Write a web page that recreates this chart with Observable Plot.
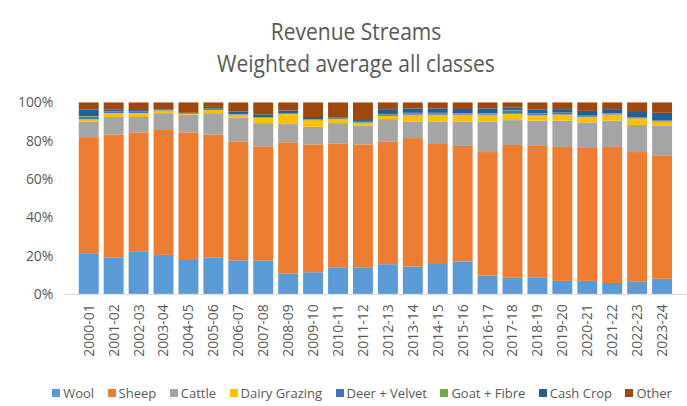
<!DOCTYPE html>
<html><head><meta charset="utf-8">
<script src="https://cdn.jsdelivr.net/npm/d3@7"></script>
<script src="https://cdn.jsdelivr.net/npm/@observablehq/plot@0.6"></script>
<style>
body{margin:0;width:687px;height:406px;overflow:hidden;background:#fff;font-family:"Open Sans",sans-serif;color:#595959}
#hdr{height:88px;position:relative}
.t{position:absolute;left:0;width:712px;text-align:center;font-size:21px;line-height:36px;white-space:nowrap;transform:scaleY(1.15)}
#legend{height:28px;display:flex;justify-content:center;align-items:center;gap:13.5px;font-size:13px;padding-left:37px;padding-top:4px;box-sizing:border-box}
#legend span.sw{display:inline-block;width:8px;height:8px;margin-right:3px}
#legend div{display:flex;align-items:center;white-space:nowrap}
</style></head>
<body>
<div id="hdr"><div class="t" style="top:13px">Revenue Streams</div><div class="t" style="top:45px">Weighted average all classes</div></div>
<div id="chart"></div>
<div id="legend"></div>
<script>
const years = ["2000-01","2001-02","2002-03","2003-04","2004-05","2005-06","2006-07","2007-08","2008-09","2009-10","2010-11","2011-12","2012-13","2013-14","2014-15","2015-16","2016-17","2017-18","2018-19","2019-20","2020-21","2021-22","2022-23","2023-24"];
const seriesNames = ["Wool","Sheep","Cattle","Dairy Grazing","Deer + Velvet","Goat + Fibre","Cash Crop","Other"];
const seriesColors = ["#5B9BD5","#ED7D31","#A5A5A5","#FFC000","#4472C4","#70AD47","#255E91","#9E480E"];
const wool   = [20.9,19.1,22.3,20.4,18.2,19.1,17.5,17.5,10.7,11.3,13.9,13.9,15.5,14.3,16.1,17.0,9.6,8.4,8.4,6.8,6.8,5.7,6.3,7.9];
const sheep  = [61.0,64.2,62.1,65.2,66.2,64.2,62.2,59.6,68.5,66.8,64.7,64.2,64.2,67.1,62.2,60.3,64.5,69.4,68.9,69.9,69.4,71.0,67.8,64.5];
const cattle = [8.2,9.1,8.0,8.8,9.3,11.1,12.3,12.1,9.5,9.2,10.6,9.7,11.6,8.7,11.8,12.8,16.0,13.0,13.2,13.8,13.4,13.8,14.1,15.4];
const dairy  = [1.1,2.1,2.1,1.4,0.3,1.7,1.6,2.8,5.2,3.6,2.1,1.7,1.7,3.5,3.5,3.5,3.5,3.3,2.8,3.2,2.9,3.2,3.5,2.3];
const deer   = [1.4,0.8,0.6,0.3,0.2,0.6,0.3,0.3,0.4,0.3,0.2,0.3,0.8,0.8,0.8,0.6,0.6,1.8,0.8,0.8,0.4,0.6,0.4,0.6];
const goat   = [0.3,0.1,0.1,0.1,0.1,0.1,0.1,0.1,0.1,0.1,0.1,0.1,0.2,0.2,0.2,0.2,0.2,0.2,0.2,0.2,0.2,0.2,0.1,0.1];
const cash   = [3.5,0.8,0.8,0.3,0.3,0.9,1.3,1.4,1.4,1.1,0.6,0.9,2.5,2.3,2.3,2.2,2.5,1.3,2.1,1.8,2.5,2.0,3.3,3.8];
const other  = [3.6,3.8,4.0,3.5,5.4,2.3,4.7,6.2,4.2,7.6,7.8,9.2,3.5,3.1,3.1,3.4,3.1,2.6,3.6,3.5,4.4,3.5,4.5,5.4];
const yTicks = [0,0.2,0.4,0.6,0.8,1];

const seriesValues = [wool,sheep,cattle,dairy,deer,goat,cash,other];
const rows = [];
seriesNames.forEach((s,i)=>years.forEach((y,j)=>rows.push({year:y,series:s,value:seriesValues[i][j]})));

const chart = Plot.plot({
  width: 689, height: 290,
  marginTop: 14.5, marginBottom: 83.5, marginLeft: 64.5, marginRight: 0,
  style: {fontFamily: "Open Sans, sans-serif", fontSize: "14px", color: "#595959", background: "white"},
  x: {domain: years, padding: 0.19, label: null, tickRotate: -90, tickSize: 0, tickPadding: 10},
  y: {domain: [0,1], ticks: yTicks, tickFormat: d3.format(".0%"), label: null, tickSize: 0, tickPadding: 11.5},
  color: {domain: seriesNames, range: seriesColors},
  marks: [
    Plot.gridY(yTicks, {stroke: "#D9D9D9", strokeOpacity: 1, x1: 62}),
    Plot.barY(rows, Plot.stackY({x: "year", y: "value", fill: "series", order: seriesNames, offset: "normalize"})),
    Plot.ruleY([0], {stroke: "#D9D9D9"})
  ]
});
chart.style.overflow = "visible";
document.getElementById("chart").appendChild(chart);

const lg = document.getElementById("legend");
seriesNames.forEach((s,i)=>{
  const d = document.createElement("div");
  d.innerHTML = `<span class="sw" style="background:${seriesColors[i]}"></span>${s}`;
  lg.appendChild(d);
});
</script>
</body></html>
